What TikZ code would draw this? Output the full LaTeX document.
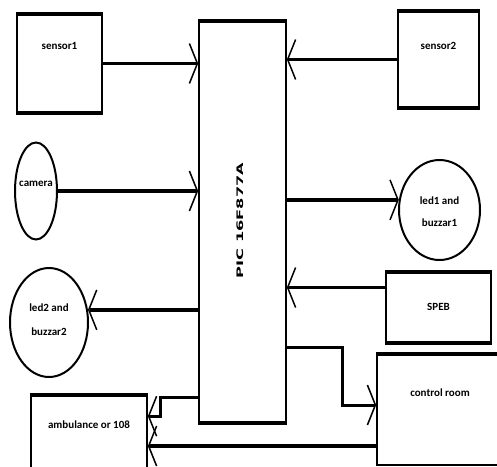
\documentclass[tikz,border=0pt]{standalone}
\usepackage{fontspec}
\usepackage{graphicx}
\setmainfont{Carlito}
\newfontfamily\chipfont{DejaVu Sans}
\usetikzlibrary{shapes.geometric, arrows.meta, positioning}
\tikzset{
  box/.style={rectangle, draw, line width=1.6pt, inner sep=0pt},
  oval/.style={ellipse, draw, line width=2pt, inner sep=0pt},
  thk/.style={line width=4pt},
  cap/.style 2 args={label={[anchor=center, align=center, yshift=-#1]north:{#2}}},
  mid/.style 2 args={label={[anchor=center, align=center, yshift=#1]center:{#2}}},
  arr/.style={-{Straight Barb[length=8pt, width=40pt, line width=1.5pt]}, line width=3.8pt},
  arrthin/.style={arr, line width=3pt},
}

\begin{document}
\begin{tikzpicture}[x=1pt, y=-1pt, font=\bfseries\fontsize{11}{13}\selectfont]
  \useasboundingbox (0,0) rectangle (497,466);
  \clip (0,0) rectangle (497,466);
  % controller
  \node[box, minimum width=87pt, minimum height=400pt,
    label={[xshift=-2.5pt, yshift=1.5pt, rotate=90, font=\chipfont\bfseries\fontsize{9}{11}\selectfont]center:\scalebox{1.8}[1]{PIC 16F877A}}] (pic) at (242.5,222) {};
  % inputs and outputs
  \node[box, minimum width=85pt, minimum height=97pt, cap={32pt}{sensor1}] (s1) at (59.5,63.5) {};
  \node[box, minimum width=81pt, minimum height=95pt, cap={35pt}{sensor2}] (s2) at (438.5,59.5) {};
  \node[oval, minimum width=42pt, minimum height=97pt, mid={7pt}{camera}] (cam) at (36,191) {};
  \node[oval, minimum width=81pt, minimum height=100pt, mid={-2pt}{led1 and\\[9pt]buzzar1}] (led1) at (439.5,210) {};
  \node[box, minimum width=105pt, minimum height=69pt, mid={1pt}{SPEB}] (speb) at (438.5,307.5) {};
  \node[oval, minimum width=78pt, minimum height=109pt, mid={3pt}{led2 and\\[11pt]buzzar2}] (led2) at (49,322.5) {};
  \node[box, minimum width=126pt, minimum height=110pt, cap={38pt}{control room}] (ctrl) at (440,410) {};
  \node[box, minimum width=116pt, minimum height=80pt, cap={29pt}{ambulance or 108}] (amb) at (89,436) {};
  % heavy edges
  \draw[thk] (pic.north west) -- (pic.north east) (pic.south west) -- (pic.south east);
  \draw[thk] (s1.north west) -- (s1.north east) (s1.south west) -- (s1.south east);
  \draw[thk] (s2.north west) -- (s2.north east) (s2.south west) -- (s2.south east);
  \draw[thk] (speb.north west) -- (speb.north east) (speb.south west) -- (speb.south east);
  \draw[thk] (ctrl.north west) -- (ctrl.north east);
  \draw[thk] (amb.north west) -- (amb.north east);
  % connections
  \coordinate (spebout) at ([yshift=20pt]speb.west);
  \coordinate (ctrlout) at ([yshift=75pt]pic.south east);
  \coordinate (ambout) at ([yshift=25pt]pic.south west);
  \coordinate (ctrlback) at ([yshift=-36pt]ctrl.west);
  \draw[arr] (s1.east) -- (s1.east -| pic.west);
  \draw[arr] (s2.west) -- (s2.west -| pic.east);
  \draw[arr] (cam.east) -- (cam.east -| pic.west);
  \draw[arr] (pic.east |- led1.166) -- (led1.166);
  \draw[arr] (spebout) -- (spebout -| pic.east);
  \draw[arr] (pic.west |- led2.18) -- (led2.18);
  \draw[arrthin] (ctrlout) -- ++(56,0) |- ([yshift=5pt]ctrl.west);
  \draw[arrthin] (ambout) -- ++(-38,0) |- ([yshift=-21pt]amb.north east);
  \draw[arr] (ctrlback) -- (ctrlback -| amb.east);
\end{tikzpicture}
\end{document}
